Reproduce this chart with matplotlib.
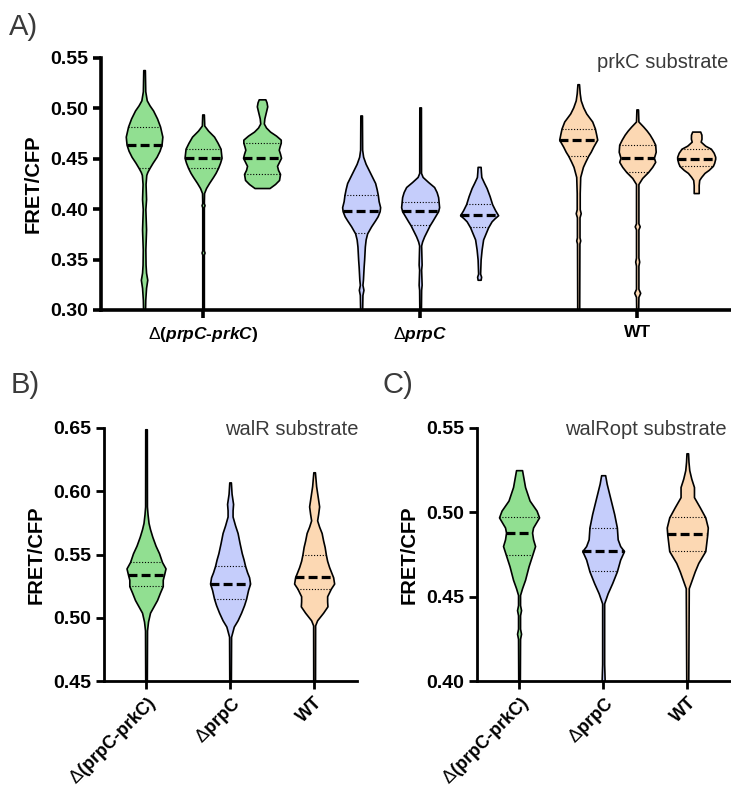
import matplotlib
matplotlib.use('Agg')
import matplotlib.pyplot as plt
import numpy as np

plt.rcParams['font.family'] = ['Liberation Sans', 'DejaVu Sans']
plt.rcParams['mathtext.fontset'] = 'custom'
plt.rcParams['mathtext.rm'] = 'Liberation Sans'
plt.rcParams['mathtext.it'] = 'Liberation Sans:italic:bold'

# strains and colours
strains = ['d_both', 'd_prpC', 'WT']
colors = {'d_both': '#91df91', 'd_prpC': '#c5cdfb', 'WT': '#fcd8b3'}
labels_a = [r'$\Delta$($\mathit{prpC}$-$\mathit{prkC}$)', r'$\Delta$$\mathit{prpC}$', 'WT']
labels_bc = [r'$\Delta$(prpC-prkC)', r'$\Delta$prpC', 'WT']

# violin outlines: (FRET/CFP value, relative half width)
# panel A, prkC substrate: three replicates per strain
prkc_profiles = [
    [(0.538, 0.8), (0.517, 1.2), (0.508, 2.7), (0.503, 5.5), (0.498, 9), (0.490, 13), (0.482, 16),
     (0.472, 18.3), (0.464, 17.5), (0.458, 15.5), (0.452, 12.5), (0.446, 8.5), (0.441, 5.5),
     (0.437, 3.3), (0.434, 2.2), (0.425, 1.5), (0.41, 2), (0.40, 1.3), (0.38, 2), (0.36, 1.3),
     (0.345, 1.5), (0.337, 2), (0.330, 3.2), (0.322, 2), (0.31, 1.2), (0.30, 1)],
    [(0.494, 0.8), (0.483, 1.2), (0.478, 5), (0.472, 11), (0.466, 14.5), (0.460, 17.5),
     (0.451, 18.5), (0.446, 17), (0.441, 15), (0.436, 12.5), (0.432, 10), (0.426, 6),
     (0.421, 3), (0.416, 1), (0.406, 0.8), (0.404, 1.5), (0.402, 0.8), (0.359, 0.8),
     (0.357, 1.5), (0.355, 0.8), (0.30, 0.8)],
    [(0.509, 3.3), (0.506, 4.5), (0.502, 5.2), (0.497, 4), (0.490, 2.3), (0.485, 1.8),
     (0.481, 4), (0.477, 8), (0.473, 14), (0.469, 18.7), (0.466, 18.7), (0.462, 17.5),
     (0.459, 16.7), (0.455, 18), (0.451, 19), (0.447, 17), (0.443, 15), (0.439, 16),
     (0.435, 18), (0.429, 17), (0.425, 13), (0.421, 7.5)],
    [(0.493, 0.8), (0.459, 1), (0.452, 2), (0.445, 4.5), (0.439, 7.5), (0.432, 11), (0.426, 14),
     (0.420, 15.5), (0.414, 16.7), (0.408, 17.5), (0.402, 19), (0.398, 18.5), (0.393, 16.5),
     (0.389, 14), (0.383, 10), (0.376, 6), (0.370, 4.5), (0.363, 3.7), (0.350, 3), (0.343, 2.5),
     (0.330, 1.8), (0.325, 1.3), (0.320, 2.3), (0.315, 1.3), (0.30, 1)],
    [(0.501, 0.8), (0.436, 0.9), (0.432, 2.5), (0.427, 8), (0.422, 14), (0.417, 16.5),
     (0.412, 18), (0.407, 18.5), (0.402, 19), (0.398, 18), (0.393, 15), (0.388, 12),
     (0.384, 9.5), (0.378, 6.5), (0.373, 4), (0.368, 2), (0.364, 1), (0.345, 1.5), (0.34, 1),
     (0.325, 1.5), (0.32, 1), (0.30, 0.8)],
    [(0.442, 1.5), (0.437, 1.8), (0.432, 2.2), (0.426, 5), (0.421, 7.5), (0.413, 10.5),
     (0.405, 13), (0.399, 16), (0.394, 19), (0.391, 15.5), (0.388, 12.5), (0.382, 9),
     (0.376, 6.5), (0.370, 4), (0.360, 2.5), (0.350, 1.5), (0.336, 1), (0.333, 2), (0.330, 1.5)],
    [(0.524, 0.8), (0.515, 1.5), (0.508, 2.5), (0.501, 5), (0.495, 8), (0.487, 14),
     (0.480, 16.7), (0.474, 18), (0.469, 19), (0.462, 15), (0.457, 12.5), (0.453, 10),
     (0.447, 7), (0.442, 4.7), (0.432, 2), (0.416, 1.5), (0.40, 1.5), (0.396, 2.5),
     (0.392, 1.3), (0.372, 1.3), (0.369, 2), (0.366, 1.2), (0.30, 1)],
    [(0.499, 0.8), (0.487, 1.2), (0.482, 6), (0.478, 9.5), (0.474, 12.5), (0.469, 15.5),
     (0.464, 18), (0.457, 18.5), (0.451, 16.7), (0.447, 18), (0.442, 15), (0.437, 11),
     (0.431, 5), (0.425, 1.2), (0.386, 1.2), (0.383, 2.5), (0.380, 1.2), (0.352, 1.2),
     (0.348, 2), (0.344, 1.2), (0.321, 1.2), (0.317, 3), (0.313, 1.2), (0.30, 1)],
    [(0.477, 4), (0.474, 5.2), (0.470, 5.3), (0.467, 4.5), (0.463, 9), (0.460, 14.7),
     (0.456, 17.5), (0.452, 19), (0.450, 19), (0.446, 18), (0.443, 16.7), (0.439, 12.5),
     (0.436, 8.3), (0.432, 5), (0.429, 3), (0.424, 2.5), (0.416, 2.5)],
]
prkc_median = [0.464, 0.451, 0.451, 0.398, 0.398, 0.394, 0.469, 0.451, 0.450]
prkc_q1 = [0.441, 0.441, 0.435, 0.376, 0.384, 0.382, 0.453, 0.437, 0.443]
prkc_q3 = [0.482, 0.460, 0.466, 0.414, 0.407, 0.405, 0.480, 0.464, 0.460]

# panel B, walR substrate
walr_profiles = [
    [(0.649, 0.8), (0.588, 0.9), (0.582, 1.5), (0.575, 2.5), (0.570, 4), (0.564, 6.3),
     (0.557, 9.5), (0.551, 13), (0.544, 16), (0.539, 19.5), (0.534, 18), (0.530, 16.7),
     (0.525, 16.7), (0.520, 14), (0.514, 11), (0.509, 7.5), (0.504, 4), (0.497, 2),
     (0.490, 1), (0.45, 0.8)],
    [(0.607, 0.8), (0.598, 1.5), (0.590, 3), (0.585, 2.5), (0.580, 2.5), (0.573, 5),
     (0.567, 7.5), (0.559, 9.5), (0.551, 11.7), (0.546, 13.5), (0.541, 15), (0.536, 17),
     (0.532, 19), (0.527, 20), (0.522, 18), (0.515, 16), (0.510, 14), (0.504, 11),
     (0.498, 7.5), (0.493, 3.7), (0.485, 1), (0.45, 0.8)],
    [(0.615, 0.8), (0.604, 2), (0.596, 3.5), (0.588, 5), (0.582, 4), (0.577, 3), (0.572, 5),
     (0.567, 7.5), (0.561, 9), (0.556, 10.5), (0.550, 11.7), (0.545, 13), (0.540, 15),
     (0.536, 17), (0.532, 19), (0.527, 20), (0.523, 16.7), (0.517, 13), (0.513, 13),
     (0.509, 13.3), (0.504, 9), (0.498, 3), (0.494, 1), (0.45, 0.9)],
]
walr_median = [0.534, 0.527, 0.532]
walr_q1 = [0.525, 0.515, 0.523]
walr_q3 = [0.544, 0.541, 0.550]

# panel C, walRopt substrate
walropt_profiles = [
    [(0.525, 3), (0.520, 4.5), (0.515, 6), (0.507, 10.5), (0.504, 14), (0.501, 17.5),
     (0.497, 20), (0.494, 17), (0.491, 14), (0.488, 13), (0.484, 14), (0.480, 16),
     (0.475, 13.3), (0.468, 9.5), (0.460, 6), (0.455, 3), (0.451, 1), (0.445, 1),
     (0.442, 2), (0.439, 1), (0.431, 1), (0.428, 2), (0.425, 1), (0.40, 0.8)],
    [(0.522, 2), (0.517, 3.5), (0.511, 6), (0.505, 8.5), (0.499, 11), (0.491, 13.7),
     (0.484, 14.5), (0.480, 17), (0.477, 20.8), (0.472, 17), (0.465, 13.7), (0.458, 9),
     (0.452, 4.5), (0.446, 1), (0.41, 1), (0.40, 1.5)],
    [(0.535, 0.8), (0.530, 1.2), (0.525, 2), (0.520, 4), (0.515, 6.7), (0.509, 6.7),
     (0.503, 12.5), (0.497, 18), (0.491, 20.5), (0.487, 20), (0.482, 19), (0.477, 18),
     (0.473, 14), (0.470, 11), (0.465, 7.5), (0.460, 4.5), (0.455, 1.5), (0.40, 1)],
]
walropt_median = [0.488, 0.477, 0.487]
walropt_q1 = [0.475, 0.465, 0.477]
walropt_q3 = [0.497, 0.491, 0.497]


def draw_violins(ax, positions, profiles, medians, q1s, q3s, cols, scale):
    for x, prof, med, lo, hi, c in zip(positions, profiles, medians, q1s, q3s, cols):
        ys = np.array([p[0] for p in prof])
        ws = np.array([p[1] for p in prof]) / scale
        ax.fill_betweenx(ys, x - ws, x + ws, facecolor=c, edgecolor='black', lw=1.2, zorder=2)
        order = np.argsort(ys)
        for q in (lo, hi):
            w = np.interp(q, ys[order], ws[order])
            ax.plot([x - w, x + w], [q, q], color='black', lw=0.8, ls=(0, (1, 1.6)), zorder=3)
        w = np.interp(med, ys[order], ws[order])
        ax.plot([x - w, x + w], [med, med], color='black', lw=2.3, ls=(0, (2.8, 1.3)),
                zorder=3, solid_capstyle='butt')


def style_axes(ax, spine_w):
    for s in ('top', 'right'):
        ax.spines[s].set_visible(False)
    for s in ('left', 'bottom'):
        ax.spines[s].set_linewidth(spine_w)
    ax.tick_params(axis='both', width=spine_w, length=5.5, labelsize=14)
    for lab in ax.get_yticklabels():
        lab.set_fontweight('bold')
    ax.set_ylabel('FRET/CFP', fontsize=14.5, fontweight='bold', labelpad=6)


fig = plt.figure(figsize=(7.31, 7.90), dpi=100)
W, H = 731.0, 790.0

# ---- panel A
axA = fig.add_axes([101 / W, 1 - 310 / H, 630 / W, 252 / H])
group_gap = 3.68
posA = [g * group_gap + i for g in range(3) for i in range(3)]
colsA = [colors[s] for s in strains for _ in range(3)]
draw_violins(axA, posA, prkc_profiles, prkc_median, prkc_q1, prkc_q3, colsA, 59.0)
axA.set_ylim(0.30, 0.55)
axA.set_xlim(-0.73, 2 * group_gap + 2 + 0.59)
axA.set_yticks([0.30, 0.35, 0.40, 0.45, 0.50, 0.55])
axA.set_yticklabels(['0.30', '0.35', '0.40', '0.45', '0.50', '0.55'])
axA.set_xticks([g * group_gap + 1 for g in range(3)])
axA.set_xticklabels(labels_a, fontweight='bold', fontsize=12.5)
style_axes(axA, 2.6)
axA.tick_params(axis='x', length=6, pad=5, labelsize=12.5)

# ---- panel B
axB = fig.add_axes([104 / W, 1 - 681 / H, 253 / W, 253 / H])
draw_violins(axB, [0, 1, 2], walr_profiles, walr_median, walr_q1, walr_q3,
             [colors[s] for s in strains], 84.0)
axB.set_ylim(0.45, 0.65)
axB.set_xlim(-0.5, 2.51)
axB.set_yticks([0.45, 0.50, 0.55, 0.60, 0.65])
axB.set_yticklabels(['0.45', '0.50', '0.55', '0.60', '0.65'])
axB.set_xticks([0, 1, 2])
axB.set_xticklabels(labels_bc, fontweight='bold', fontsize=13, rotation=45,
                    ha='right', rotation_mode='anchor')
style_axes(axB, 2.0)
axB.tick_params(axis='x', labelsize=13)

# ---- panel C
axC = fig.add_axes([477 / W, 1 - 681 / H, 254 / W, 253 / H])
draw_violins(axC, [0, 1, 2], walropt_profiles, walropt_median, walropt_q1, walropt_q3,
             [colors[s] for s in strains], 84.0)
axC.set_ylim(0.40, 0.55)
axC.set_xlim(-0.5, 2.52)
axC.set_yticks([0.40, 0.45, 0.50, 0.55])
axC.set_yticklabels(['0.40', '0.45', '0.50', '0.55'])
axC.set_xticks([0, 1, 2])
axC.set_xticklabels(labels_bc, fontweight='bold', fontsize=13, rotation=45,
                    ha='right', rotation_mode='anchor')
style_axes(axC, 2.0)
axC.tick_params(axis='x', labelsize=13)

# titles and panel letters
fig.text(728 / W, 1 - 68 / H, 'prkC substrate', ha='right', va='baseline', fontsize=14.5, color='#3a3a3a')
fig.text(359 / W, 1 - 435 / H, 'walR substrate', ha='right', va='baseline', fontsize=14.5, color='#3a3a3a')
fig.text(727 / W, 1 - 435 / H, 'walRopt substrate', ha='right', va='baseline', fontsize=14.5, color='#3a3a3a')
fig.text(9 / W, 1 - 35 / H, 'A)', ha='left', va='baseline', fontsize=21, color='#3a3a3a')
fig.text(11 / W, 1 - 393 / H, 'B)', ha='left', va='baseline', fontsize=21, color='#3a3a3a')
fig.text(382 / W, 1 - 393 / H, 'C)', ha='left', va='baseline', fontsize=21, color='#3a3a3a')

fig.savefig('out.png', dpi=100)
